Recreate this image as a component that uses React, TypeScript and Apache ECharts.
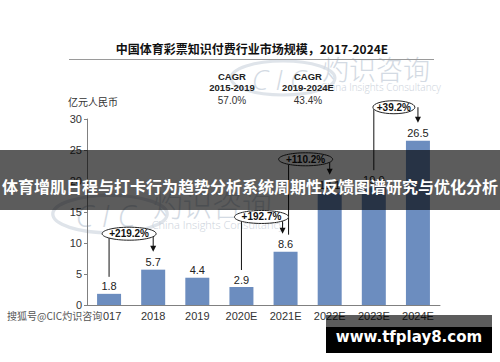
import React, { useEffect, useRef } from "react";
import * as echarts from "echarts";

const categories = ["2017", "2018", "2019", "2020E", "2021E", "2022E", "2023E", "2024E"];
const values = [1.8, 5.7, 4.4, 2.9, 8.6, 18.1, 19.0, 26.5];
const yMin = 0;
const yMax = 30;
const yInterval = 5;

const growthLabels = ["+219.2%", "+192.7%", "+110.2%", "+39.2%"];
const growthFrom = [0, 3, 4, 6];
const growthTo = [1, 4, 5, 7];
const growthLevel = [11.5, 14.2, 23.5, 31.9];

const cagrHeaders = ["CAGR", "CAGR"];
const cagrPeriods = ["2015-2019", "2019-2024E"];
const cagrValues = ["57.0%", "43.4%"];

const titleText = "中国体育彩票知识付费行业市场规模，2017-2024E";
const unitText = "亿元人民币";
const bannerText = "体育增肌日程与打卡行为趋势分析系统周期性反馈图谱研究与优化分析";
const sourceText = "搜狐号@CIC灼识咨询";
const siteText = "www.tfplay8.com";

const LATIN = "'Liberation Sans', Arial, sans-serif";
const CJK = "'Noto Sans CJK SC', sans-serif";

function watermark(x: number, y: number, s: number) {
  const c = "#d3dae3";
  return {
    type: "group",
    x,
    y,
    scaleX: s,
    scaleY: s,
    z: 0,
    silent: true,
    children: [
      {
        type: "ellipse",
        shape: { cx: 50, cy: 21, rx: 52, ry: 17 },
        style: { fill: "none", stroke: "#dfe4ea", lineWidth: 3 },
      },
      {
        type: "text",
        style: {
          text: "C I C",
          x: 46,
          y: 22,
          align: "center",
          verticalAlign: "middle",
          font: `italic 300 28px 'Open Sans', sans-serif`,
          fill: c,
        },
      },
      {
        type: "text",
        style: {
          text: "灼识咨询",
          x: 89,
          y: 11,
          align: "left",
          verticalAlign: "middle",
          font: `300 27px ${CJK}`,
          fill: c,
        },
      },
      {
        type: "text",
        style: {
          text: "China Insights Consultancy",
          x: 88,
          y: 30,
          align: "left",
          verticalAlign: "middle",
          font: `300 10px 'Open Sans', sans-serif`,
          fill: "#cbd2db",
        },
      },
    ],
  };
}

export default function App() {
  const ref = useRef<HTMLDivElement>(null);
  useEffect(() => {
    const chart = echarts.init(ref.current!, null, { renderer: "svg" });
    chart.setOption({
      animation: false,
      grid: { left: 87, right: 60, top: 119, bottom: 57 },
      xAxis: {
        type: "category",
        data: categories,
        axisLine: { lineStyle: { color: "#808080" } },
        axisTick: { show: false },
        axisLabel: { color: "#333", fontSize: 11, fontFamily: LATIN, margin: 5 },
      },
      yAxis: {
        type: "value",
        min: yMin,
        max: yMax,
        interval: yInterval,
        axisLine: { show: true, lineStyle: { color: "#808080" } },
        axisTick: { show: true, length: 3, lineStyle: { color: "#808080" } },
        splitLine: { show: false },
        axisLabel: { color: "#333", fontSize: 11, fontFamily: LATIN, margin: 5 },
      },
      series: [
        {
          type: "bar",
          data: values,
          barWidth: 24,
          z: 2,
          itemStyle: { color: "#6c8dbf" },
          label: {
            show: true,
            position: "top",
            distance: 2,
            color: "#222",
            fontSize: 11,
            fontFamily: LATIN,
            formatter: (p: any) => Number(p.value).toFixed(1),
          },
        },
      ],
    });

    const px = (i: number, v: number) => chart.convertToPixel({ seriesIndex: 0 }, [i, v]) as number[];

    const graphics: any[] = [];
    graphics.push(watermark(233, 57, 1));
    graphics.push(watermark(55, 191, 1.1));

    // title
    graphics.push({
      type: "text",
      z: 20,
      style: {
        text: titleText,
        x: 252,
        y: 48,
        align: "center",
        verticalAlign: "middle",
        font: `bold 12px ${CJK}`,
        fill: "#111",
      },
    });
    graphics.push({
      type: "line",
      z: 20,
      shape: { x1: 69, y1: 59.5, x2: 434, y2: 59.5 },
      style: { stroke: "#9a9a9a", lineWidth: 1 },
    });
    graphics.push({
      type: "text",
      z: 20,
      style: {
        text: unitText,
        x: 68,
        y: 101,
        align: "left",
        verticalAlign: "middle",
        font: `10px ${CJK}`,
        fill: "#333",
      },
    });
    const cagrX = [232, 308];
    cagrHeaders.forEach((h, k) => {
      graphics.push({
        type: "text",
        z: 20,
        style: { text: h, x: cagrX[k], y: 76, align: "center", verticalAlign: "middle", font: `bold 9.5px ${LATIN}`, fill: "#222" },
      });
      graphics.push({
        type: "text",
        z: 20,
        style: { text: cagrPeriods[k], x: cagrX[k], y: 87, align: "center", verticalAlign: "middle", font: `bold 9.5px ${LATIN}`, fill: "#222" },
      });
      graphics.push({
        type: "text",
        z: 20,
        style: { text: cagrValues[k], x: cagrX[k], y: 100, align: "center", verticalAlign: "middle", font: `10px ${LATIN}`, fill: "#333" },
      });
    });

    // growth annotations
    const toSet = new Set(growthTo);
    const fromSet = new Set(growthFrom);
    growthLabels.forEach((lab, k) => {
      const f = growthFrom[k];
      const t = growthTo[k];
      const [xf, yf] = px(f, values[f]);
      const [xt, yt] = px(t, values[t]);
      const [, cy] = px(f, growthLevel[k]);
      const cx = (xf + xt) / 2 - 2;
      const rx = lab.length >= 7 ? 27 : 21;
      const ry = 6.5;
      const legX = xf + (toSet.has(f) ? 3 : 0);
      const arrX = xt - (fromSet.has(t) ? 3 : 0);
      const bottomAt = (x: number) => cy + ry * Math.sqrt(Math.max(0, 1 - ((x - cx) / rx) ** 2));
      const legEnd = yf - 8 - 9;
      const tip = yt - 8 - 10;
      graphics.push({
        type: "line",
        z: 30,
        shape: { x1: legX, y1: bottomAt(legX), x2: legX, y2: legEnd },
        style: { stroke: "#111", lineWidth: 1 },
      });
      graphics.push({
        type: "line",
        z: 30,
        shape: { x1: arrX, y1: bottomAt(arrX), x2: arrX, y2: tip - 5 },
        style: { stroke: "#111", lineWidth: 1 },
      });
      graphics.push({
        type: "polygon",
        z: 30,
        shape: { points: [[arrX - 3, tip - 6], [arrX + 3, tip - 6], [arrX, tip]] },
        style: { fill: "#111" },
      });
      graphics.push({
        type: "ellipse",
        z: 31,
        shape: { cx, cy, rx, ry },
        style: { fill: "#fff", stroke: "#222", lineWidth: 1 },
      });
      graphics.push({
        type: "text",
        z: 32,
        style: { text: lab, x: cx, y: cy, align: "center", verticalAlign: "middle", font: `bold 10px ${LATIN}`, fill: "#111" },
      });
    });

    // banner overlay
    graphics.push({
      type: "rect",
      z: 100,
      shape: { x: 0, y: 150, width: 500, height: 60 },
      style: { fill: "rgba(0,0,0,0.64)" },
    });
    graphics.push({
      type: "text",
      z: 101,
      style: {
        text: bannerText,
        x: 250,
        y: 186,
        align: "center",
        verticalAlign: "middle",
        font: `bold 16px ${CJK}`,
        fill: "#fff",
      },
    });
    // source watermark
    graphics.push({
      type: "text",
      z: 100,
      style: {
        text: sourceText,
        x: 7,
        y: 315,
        align: "left",
        verticalAlign: "middle",
        font: `10px ${CJK}`,
        fill: "#555",
        stroke: "#fff",
        lineWidth: 2,
      },
    });
    // site box
    graphics.push({
      type: "rect",
      z: 100,
      shape: { x: 326, y: 315, width: 166, height: 12 },
      style: { fill: "rgba(0,0,0,0.64)" },
    });
    graphics.push({
      type: "rect",
      z: 100,
      shape: { x: 326, y: 327, width: 166, height: 26 },
      style: { fill: "#000" },
    });
    graphics.push({
      type: "text",
      z: 101,
      style: {
        text: siteText,
        x: 409,
        y: 337,
        align: "center",
        verticalAlign: "middle",
        font: `bold 15px 'DejaVu Sans', sans-serif`,
        fill: "#fff",
      },
    });

    chart.setOption({ graphic: graphics });
    return () => chart.dispose();
  }, []);
  return (
    <div
      ref={ref}
      style={{ position: "fixed", left: 0, top: 0, width: 500, height: 362, background: "#fff" }}
    />
  );
}
